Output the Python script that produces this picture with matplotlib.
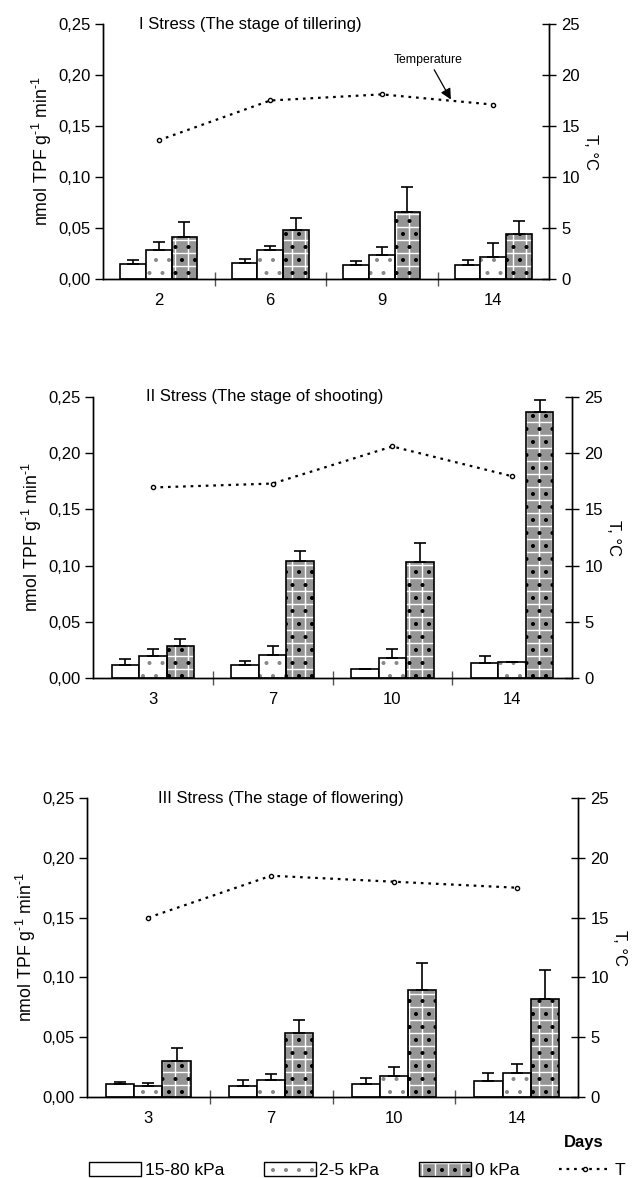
import matplotlib.pyplot as plt
import numpy as np
from matplotlib.patches import Patch
from matplotlib.lines import Line2D

plt.rcParams['font.family'] = ['Liberation Sans', 'DejaVu Sans']
plt.rcParams['mathtext.fontset'] = 'custom'
plt.rcParams['mathtext.rm'] = 'Liberation Sans'
plt.rcParams['mathtext.it'] = 'Liberation Sans:italic'

# ---- data ----
series_names = ["15-80 kPa", "2-5 kPa", "0 kPa"]
temp_name = "T"

titles = ["I Stress (The stage of tillering)",
          "II Stress (The stage of shooting)",
          "III Stress (The stage of flowering)"]

days_1 = ["2", "6", "9", "14"]
high_1 = [0.0147, 0.016, 0.0137, 0.0137]
high_err_1 = [0.0043, 0.004, 0.0039, 0.0053]
mid_1 = [0.028, 0.028, 0.024, 0.0215]
mid_err_1 = [0.008, 0.004, 0.007, 0.0135]
zero_1 = [0.041, 0.048, 0.066, 0.044]
zero_err_1 = [0.015, 0.012, 0.024, 0.013]
temp_1 = [13.6, 17.5, 18.1, 17.1]

days_2 = ["3", "7", "10", "14"]
high_2 = [0.0115, 0.0115, 0.0077, 0.013]
high_err_2 = [0.005, 0.004, 0.0003, 0.0065]
mid_2 = [0.0195, 0.0207, 0.018, 0.0142]
mid_err_2 = [0.006, 0.0075, 0.0075, 0.0004]
zero_2 = [0.0284, 0.1044, 0.1036, 0.237]
zero_err_2 = [0.006, 0.009, 0.0165, 0.010]
temp_2 = [16.95, 17.3, 20.6, 17.95]

days_3 = ["3", "7", "10", "14"]
high_3 = [0.0106, 0.0094, 0.0106, 0.013]
high_err_3 = [0.0022, 0.0048, 0.005, 0.007]
mid_3 = [0.0094, 0.0142, 0.0178, 0.020]
mid_err_3 = [0.0026, 0.0047, 0.0072, 0.0072]
zero_3 = [0.030, 0.0536, 0.0894, 0.0822]
zero_err_3 = [0.0108, 0.0104, 0.0226, 0.024]
temp_3 = [15.0, 18.5, 18.0, 17.5]

y_ticks = [0.0, 0.05, 0.10, 0.15, 0.20, 0.25]
y_labels = ["0,00", "0,05", "0,10", "0,15", "0,20", "0,25"]
t_ticks = [0, 5, 10, 15, 20, 25]

# a lower dpi makes the hatch pattern finer; K converts sizes back to pixels-at-100dpi
DPI = 78
K = 100 / DPI
plt.rcParams['hatch.linewidth'] = 1.0 * K

W, H = 639, 1178
fig = plt.figure(figsize=(W / DPI, H / DPI), dpi=DPI)

FS = 12 * K

# axes boxes in pixels: left, right, top, bottom
boxes = [(103, 549, 24, 279), (93, 572, 397, 678), (87, 578, 798, 1097)]
title_x = [0.08, 0.11, 0.145]

err_kw = dict(ecolor="black", elinewidth=1.2 * K, capthick=1.2 * K, capsize=4 * K)
w = 0.23
dotted = (0, (1.2, 2.2))


def draw_panel(box, days, high, high_err, mid, mid_err, zero, zero_err, temp, title, tx):
    l, r, t, b = box
    ax = fig.add_axes([l / W, 1 - b / H, (r - l) / W, (b - t) / H])
    x = np.arange(len(days))
    zeros = np.zeros(len(days))

    # 15-80 kPa: plain white
    ax.bar(x - w, high, w, facecolor="white", edgecolor="black", lw=1.2 * K,
           yerr=[zeros, high_err], error_kw=err_kw, zorder=2)
    # 2-5 kPa: white with sparse grey dots
    ax.bar(x, mid, w, facecolor="white", edgecolor="#888888", hatch=".", lw=0, zorder=2)
    ax.bar(x, mid, w, facecolor="none", edgecolor="black", lw=1.2 * K,
           yerr=[zeros, mid_err], error_kw=err_kw, zorder=3)
    # 0 kPa: grey with white grid and black dots
    ax.bar(x + w, zero, w, facecolor="#959595", edgecolor="white", hatch="+", lw=0, zorder=2)
    ax.bar(x + w, zero, w, facecolor="none", edgecolor="black", hatch=".", lw=1.2 * K,
           yerr=[zeros, zero_err], error_kw=err_kw, zorder=3)

    ax.set_xlim(-0.5, len(days) - 0.5)
    ax.set_ylim(0, 0.25)
    ax.set_yticks(y_ticks)
    ax.set_yticklabels(y_labels, fontsize=FS)
    ax.tick_params(axis="y", direction="out", length=6 * K, width=1 * K, pad=3 * K)
    ax.set_xticks(x)
    ax.set_xticklabels(days, fontsize=FS)
    ax.set_xticks(np.arange(0.5, len(days) - 0.5, 1), minor=True)
    ax.tick_params(axis="x", which="major", length=0, pad=10 * K)
    ax.tick_params(axis="x", which="minor", direction="inout", length=10 * K,
                   width=1 * K, color="#555555")
    for s in ax.spines.values():
        s.set_linewidth(1 * K)
    ax.spines["top"].set_visible(False)
    ax.set_ylabel(r"nmol TPF g$^{\text{-1}}$ min$^{\text{-1}}$", fontsize=12.8 * K, labelpad=3 * K)
    ax.text(tx, 1.0, title, transform=ax.transAxes, ha="left", va="center", fontsize=FS)

    ax2 = ax.twinx()
    ax2.set_ylim(0, 25)
    ax2.set_yticks(t_ticks)
    ax2.tick_params(axis="y", direction="inout", length=10 * K, width=1 * K,
                    labelsize=FS, pad=4 * K)
    for s in ax2.spines.values():
        s.set_linewidth(1 * K)
    ax2.spines["top"].set_visible(False)
    ax2.plot(x, temp, color="black", linestyle=dotted, lw=1.6 * K,
             marker="o", markersize=3 * K, markeredgewidth=1 * K,
             markerfacecolor="white", markeredgecolor="black")
    ax2.set_ylabel("T, °C", rotation=270, fontsize=FS, labelpad=13 * K)
    return ax, ax2


panels = [
    (days_1, high_1, high_err_1, mid_1, mid_err_1, zero_1, zero_err_1, temp_1),
    (days_2, high_2, high_err_2, mid_2, mid_err_2, zero_2, zero_err_2, temp_2),
    (days_3, high_3, high_err_3, mid_3, mid_err_3, zero_3, zero_err_3, temp_3),
]

axes = []
for i, p in enumerate(panels):
    axes.append(draw_panel(boxes[i], *p, titles[i], title_x[i]))

# arrow label in the first panel
axes[0][1].annotate("Temperature", xy=(2.62, 17.6), xytext=(2.42, 21.5),
                    ha="center", va="center", fontsize=8.8 * K,
                    arrowprops=dict(arrowstyle="-|>", color="black", lw=0.9 * K,
                                    mutation_scale=16 * K, shrinkA=2, shrinkB=0))

fig.text(584 / W, 1 - 1142 / H, "Days", fontweight="bold", ha="center", va="center", fontsize=FS)

# legend
h_high = Patch(facecolor="white", edgecolor="black", lw=1.0 * K)
h_mid = (Patch(facecolor="white", edgecolor="#888888", hatch=".", lw=0),
         Patch(facecolor="none", edgecolor="black", lw=1.0 * K))
h_zero = (Patch(facecolor="#959595", edgecolor="white", hatch="+", lw=0),
          Patch(facecolor="none", edgecolor="black", hatch=".", lw=1.0 * K))
h_temp = Line2D([], [], color="black", linestyle=dotted, lw=1.6 * K,
                marker="o", markersize=3 * K, markeredgewidth=1 * K,
                markerfacecolor="white", markeredgecolor="black")
fig.legend([h_high, h_mid, h_zero, h_temp], series_names + [temp_name],
           loc="center left", bbox_to_anchor=(89 / W, 1 - 1170 / H), ncol=4,
           frameon=False, fontsize=12.5 * K, handlelength=3.0, handleheight=0.9,
           handletextpad=0.2, columnspacing=2.3, borderaxespad=0, borderpad=0)

fig.savefig("out.png", dpi=DPI)
